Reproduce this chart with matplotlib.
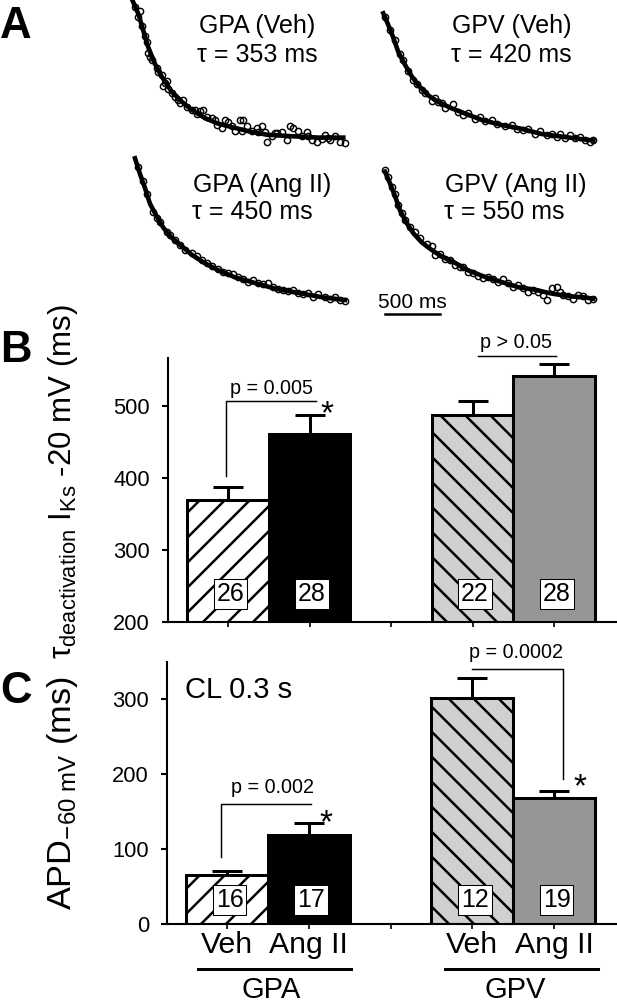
import numpy as np
import matplotlib.pyplot as plt

plt.rcParams['font.family'] = ['Liberation Sans', 'DejaVu Sans']
plt.rcParams['mathtext.fontset'] = 'custom'
plt.rcParams['mathtext.rm'] = 'Liberation Sans'
plt.rcParams['mathtext.it'] = 'Liberation Sans:italic'
plt.rcParams['mathtext.bf'] = 'Liberation Sans:bold'
plt.rcParams['hatch.linewidth'] = 1.2

# ---- data ----
bar_pos = [1, 2, 4, 5]
tick_labels = ['Veh', 'Ang II', '', 'Veh', 'Ang II']
groups = ['GPA', 'GPV']

tau_mean = [369, 461, 487, 541]
tau_sem = [18, 26, 19, 17]
tau_n = [26, 28, 22, 28]

apd_mean = [65, 119, 302, 168]
apd_sem = [6, 16, 26, 10]
apd_n = [16, 17, 12, 19]

# tail current traces (time in ms, current normalised to start)
gpa_veh_t = [70, 85, 115, 130, 145, 160, 176, 220, 236, 267, 282, 297, 312, 327, 358, 388, 418,
             433, 464, 494, 539, 570, 585, 615, 645, 676, 721, 751, 767, 812, 842, 873, 903, 933,
             979, 994, 1009, 1039, 1085, 1130, 1145, 1176, 1206, 1221, 1267, 1297, 1312, 1357,
             1403, 1433, 1464, 1509, 1539, 1585, 1600, 1630, 1676, 1721, 1751, 1782, 1797, 1842,
             1888, 1933, 25, 48]
gpa_veh_i = [0.92, 0.81, 0.74, 0.70, 0.62, 0.59, 0.57, 0.51, 0.48, 0.46, 0.38, 0.40, 0.42, 0.36,
             0.33, 0.30, 0.28, 0.26, 0.28, 0.23, 0.21, 0.21, 0.18, 0.20, 0.21, 0.16, 0.15, 0.14,
             0.10, 0.08, 0.14, 0.12, 0.09, 0.06, 0.14, 0.06, 0.14, 0.09, 0.06, 0.08, 0.05, 0.09,
             0.05, -0.02, 0.02, 0.04, 0.04, 0.05, -0.01, 0.09, 0.08, 0.06, 0.02, 0.05, 0.02, -0.01,
             -0.02, 0.00, 0.03, 0.01, -0.01, 0.02, -0.02, -0.03, 0.95, 0.88]
gpa_veh_fit_t = [0, 55, 100, 145, 206, 267, 358, 448, 539, 661, 782, 933, 1085, 1236, 1448, 1691, 1918]
gpa_veh_fit_i = [1.00, 0.90, 0.78, 0.66, 0.54, 0.45, 0.34, 0.27, 0.21, 0.15, 0.11, 0.08, 0.05,
                 0.03, 0.02, 0.01, 0.01]

gpv_veh_t = [15, 61, 106, 152, 182, 227, 273, 303, 348, 379, 439, 470, 500, 530, 561, 636, 682,
             727, 773, 833, 879, 924, 985, 1030, 1106, 1167, 1212, 1273, 1318, 1379, 1424, 1485,
             1530, 1576, 1606, 1651, 1697, 1742, 1788, 1833, 1879, 1909]
gpv_veh_i = [0.97, 0.87, 0.79, 0.68, 0.64, 0.55, 0.48, 0.45, 0.40, 0.38, 0.32, 0.34, 0.31, 0.30,
             0.26, 0.29, 0.23, 0.21, 0.22, 0.18, 0.19, 0.16, 0.17, 0.14, 0.12, 0.13, 0.10, 0.09,
             0.10, 0.06, 0.08, 0.05, 0.06, 0.04, 0.06, 0.03, 0.05, 0.03, 0.04, 0.01, 0.00, 0.01]
gpv_veh_fit_t = [0, 45, 91, 136, 197, 258, 318, 409, 500, 621, 742, 894, 1076, 1257, 1439, 1621, 1803, 1909]
gpv_veh_fit_i = [1.00, 0.91, 0.81, 0.70, 0.60, 0.51, 0.44, 0.36, 0.31, 0.26, 0.22, 0.17, 0.13,
                 0.10, 0.06, 0.04, 0.02, 0.01]

gpa_ang_t = [30, 76, 106, 167, 197, 227, 288, 318, 364, 409, 455, 515, 561, 606, 652, 697, 758,
             803, 848, 894, 939, 985, 1030, 1076, 1121, 1167, 1212, 1258, 1303, 1348, 1394, 1439,
             1485, 1530, 1576, 1621, 1667, 1727, 1773, 1818, 1864, 1909]
gpa_ang_i = [0.94, 0.84, 0.75, 0.62, 0.58, 0.55, 0.48, 0.46, 0.42, 0.39, 0.35, 0.33, 0.31, 0.28,
             0.26, 0.24, 0.22, 0.20, 0.19, 0.18, 0.16, 0.15, 0.13, 0.14, 0.12, 0.11, 0.12, 0.09,
             0.08, 0.07, 0.06, 0.07, 0.05, 0.04, 0.05, 0.02, 0.04, 0.02, 0.01, 0.02, 0.00, -0.01]
gpa_ang_fit_t = [0, 45, 91, 136, 197, 258, 333, 424, 515, 636, 758, 909, 1091, 1273, 1485, 1697, 1909]
gpa_ang_fit_i = [1.00, 0.89, 0.79, 0.68, 0.59, 0.51, 0.44, 0.38, 0.32, 0.26, 0.21, 0.16, 0.12,
                 0.08, 0.05, 0.02, 0.00]

gpv_ang_t = [0, 30, 61, 91, 121, 152, 182, 227, 273, 318, 379, 424, 455, 500, 545, 591, 636, 682,
             712, 758, 803, 848, 894, 939, 985, 1030, 1076, 1121, 1167, 1212, 1258, 1303, 1348,
             1394, 1439, 1470, 1515, 1561, 1591, 1621, 1667, 1712, 1758, 1803, 1848, 1894]
gpv_ang_i = [1.01, 0.96, 0.88, 0.83, 0.74, 0.68, 0.62, 0.57, 0.53, 0.48, 0.44, 0.42, 0.35, 0.36,
             0.32, 0.31, 0.27, 0.26, 0.26, 0.22, 0.21, 0.19, 0.17, 0.18, 0.16, 0.14, 0.16, 0.13,
             0.10, 0.12, 0.09, 0.06, 0.08, 0.06, 0.04, 0.00, 0.09, 0.10, 0.06, 0.04, 0.03, 0.01,
             0.04, 0.03, 0.00, 0.01]
gpv_ang_fit_t = [0, 45, 91, 136, 197, 258, 333, 424, 515, 636, 758, 909, 1061, 1212, 1364, 1515,
                 1667, 1818, 1894]
gpv_ang_fit_i = [1.00, 0.91, 0.81, 0.70, 0.60, 0.52, 0.45, 0.39, 0.34, 0.29, 0.23, 0.18, 0.14,
                 0.10, 0.08, 0.05, 0.03, 0.02, 0.01]

# ---- figure ----
W, H = 617, 1005
DPI = 150
fig = plt.figure(figsize=(W / DPI, H / DPI), dpi=DPI)


def trace_axes(x0, ytop, yzero):
    # x0: pixel of t=0, ytop: pixel of I=1, yzero: pixel of I=0
    ms_per_px = 500 / 55
    hpx = yzero - ytop
    t_lo, t_hi, i_lo, i_hi = -100, 2000, -0.2, 1.1
    left = x0 + t_lo / ms_per_px
    right = x0 + t_hi / ms_per_px
    top = yzero - i_hi * hpx
    bottom = yzero - i_lo * hpx
    ax = fig.add_axes([left / W, 1 - bottom / H, (right - left) / W, (bottom - top) / H])
    ax.set_xlim(t_lo, t_hi)
    ax.set_ylim(i_lo, i_hi)
    ax.axis('off')
    return ax


traces = [
    (132.3, 0, 139, gpa_veh_t, gpa_veh_i, gpa_veh_fit_t, gpa_veh_fit_i,
     'GPA (Veh)', '\u03c4 = 353 ms', (606, 0.76), (588, 0.556)),
    (383.3, 13.3, 141.7, gpv_veh_t, gpv_veh_i, gpv_veh_fit_t, gpv_veh_fit_i,
     'GPV (Veh)', '\u03c4 = 420 ms', (624, 0.845), (615, 0.624)),
    (135, 158.3, 300, gpa_ang_t, gpa_ang_i, gpa_ang_fit_t, gpa_ang_fit_i,
     'GPA (Ang II)', '\u03c4 = 450 ms', (530, 0.759), (518, 0.572)),
    (385, 171.7, 300, gpv_ang_t, gpv_ang_i, gpv_ang_fit_t, gpv_ang_fit_i,
     'GPV (Ang II)', '\u03c4 = 550 ms', (545, 0.838), (532, 0.631)),
]

for x0, yt, yz, t, cur, ft, fi, name, tau, p1, p2 in traces:
    ax = trace_axes(x0, yt, yz)
    ax.plot(ft, fi, color='k', lw=2.2, zorder=2, clip_on=False)
    ax.plot(t, cur, 'o', mfc='none', mec='k', ms=3.0, mew=0.7, zorder=3, clip_on=False)
    ax.text(p1[0], p1[1], name, fontsize=12, ha='left', va='baseline')
    ax.text(p2[0], p2[1], tau, fontsize=12, ha='left', va='baseline')

# scale bar on last trace axes
ax.plot([0, 500], [-0.109, -0.109], color='k', lw=1.2, clip_on=False)
ax.text(250, -0.065, '500 ms', fontsize=10, ha='center', va='baseline')

# ---- bar panels ----
bar_colors = ['white', 'black', '#d0d0d0', '#969696']
bar_hatch = ['//', None, '\\\\', None]


def bar_panel(ax, means, sems, ns, ylim, yticks, n_y):
    bars = ax.bar(bar_pos, means, width=1.0, color=bar_colors, edgecolor='k', linewidth=1.45, zorder=2)
    for b, h in zip(bars, bar_hatch):
        if h:
            b.set_hatch(h)
    ax.errorbar(bar_pos, means, yerr=[np.zeros(len(sems)), sems], fmt='none', ecolor='k',
                elinewidth=1.45, capsize=7.2, capthick=1.45, zorder=1)
    ax.set_xlim(0.264, 5.77)
    ax.set_ylim(*ylim)
    ax.set_yticks(yticks)
    ax.set_xticks([1, 2, 3, 4, 5])
    for s in ['top', 'right']:
        ax.spines[s].set_visible(False)
    for s in ['left', 'bottom']:
        ax.spines[s].set_linewidth(1.0)
    ax.tick_params(axis='y', direction='out', length=2.9, width=1, pad=5.8, labelsize=10.5)
    ax.tick_params(axis='x', direction='out', length=2.4, width=0.8, pad=1, labelsize=14.5)
    for x, n in zip(bar_pos, ns):
        ax.text(x + 0.03, n_y, str(n), ha='center', va='center', fontsize=12, zorder=4,
                bbox=dict(boxstyle='square,pad=0.12', fc='white', ec='k', lw=0.5))


axB = fig.add_axes([168 / W, 1 - 621.7 / H, (W - 168) / W, (621.7 - 358.3) / H])
bar_panel(axB, tau_mean, tau_sem, tau_n, (200, 566), [200, 300, 400, 500], 238)
axB.set_xticklabels([])

# p = 0.005 bracket
axB.plot([0.98, 0.98, 2.08], [402, 506.5, 506.5], color='k', lw=0.7, clip_on=False)
axB.text(1.53, 516, 'p = 0.005', fontsize=9.5, ha='center', va='baseline')
axB.text(2.21, 476, '*', fontsize=16, ha='center', va='baseline')
# p > 0.05
axB.plot([4.06, 5.02], [569.4, 569.4], color='k', lw=0.7, clip_on=False)
axB.text(4.53, 580, 'p > 0.05', fontsize=9.5, ha='center', va='baseline')

axC = fig.add_axes([167 / W, 1 - 924 / H, (W - 167) / W, (924 - 661.7) / H])
bar_panel(axC, apd_mean, apd_sem, apd_n, (0, 350), [0, 100, 200, 300], 32)
axC.set_xticklabels(tick_labels)

axC.plot([0.92, 0.92, 2.03], [90, 159.6, 159.6], color='k', lw=0.7)
axC.text(1.55, 175, 'p = 0.002', fontsize=9.5, ha='center', va='baseline')
axC.text(2.21, 123, '*', fontsize=16, ha='center', va='baseline')
axC.plot([3.99, 5.105, 5.105], [340, 340, 193], color='k', lw=0.7)
axC.text(4.54, 355.6, 'p = 0.0002', fontsize=9.5, ha='center', va='baseline', clip_on=False)
axC.text(5.32, 171, '*', fontsize=16, ha='center', va='baseline')
axC.text(0.49, 312, 'CL 0.3 s', fontsize=14, ha='left', va='center')

# group underlines
for (x1, x2, xc), g in zip([(0.64, 2.52, 1.54), (3.66, 5.54, 4.53)], groups):
    axC.plot([x1, x2], [-60, -60], color='k', lw=1.45, clip_on=False)
    axC.text(xc, -70, g, fontsize=14, ha='center', va='top', clip_on=False)

# axis labels
fig.text(63 / W, 1 - 482 / H,
         '\u03c4$_{\\mathregular{deactivation}}$ I$_{\\mathregular{Ks}}$ -20 mV (ms)',
         rotation=90, ha='center', va='center', fontsize=15)
fig.text(63 / W, 1 - 793 / H, 'APD$_{\\mathregular{-60\\ mV}}$ (ms)',
         rotation=90, ha='center', va='center', fontsize=16.5)

# panel letters
fig.text(0.0, 1 - 38 / H, 'A', fontsize=21, fontweight='bold', ha='left', va='baseline')
fig.text(0.0, 1 - 362 / H, 'B', fontsize=21, fontweight='bold', ha='left', va='baseline')
fig.text(0.0, 1 - 703 / H, 'C', fontsize=21, fontweight='bold', ha='left', va='baseline')

fig.savefig('out.png', dpi=DPI)
